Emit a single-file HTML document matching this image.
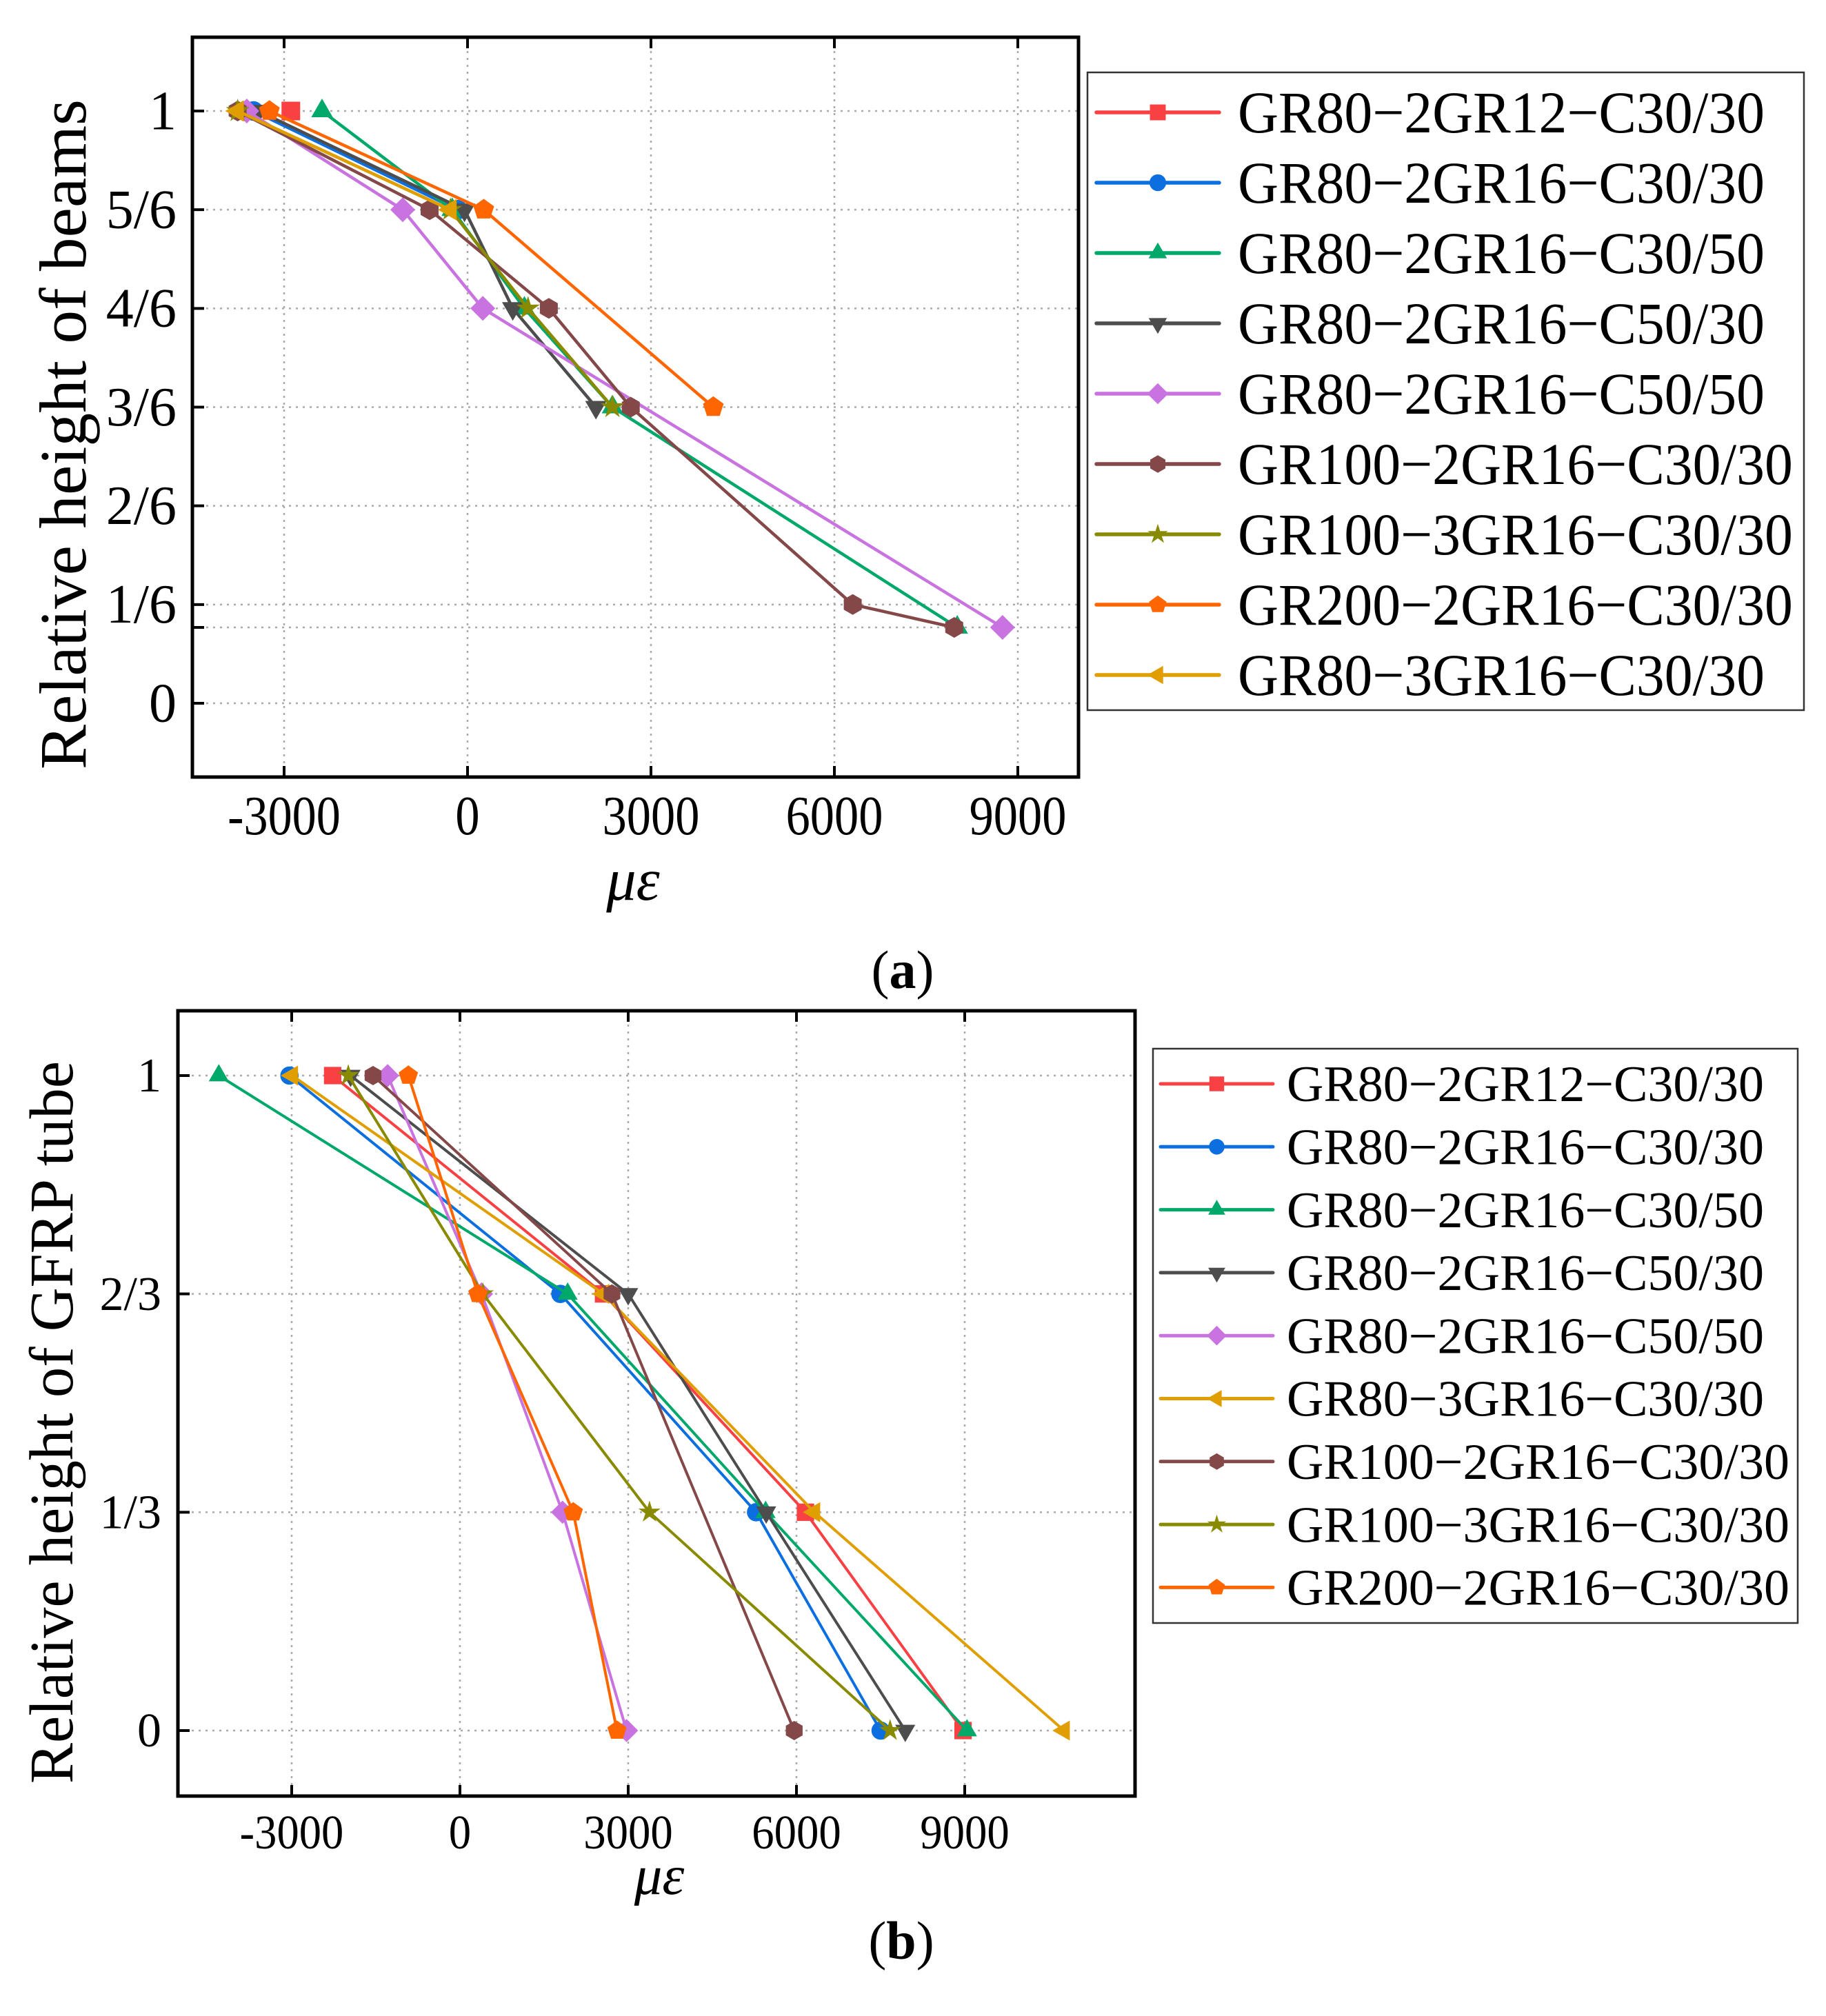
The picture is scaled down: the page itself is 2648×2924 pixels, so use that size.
<!DOCTYPE html>
<html><head><meta charset="utf-8">
<style>
html,body{margin:0;padding:0;background:#fff;}
svg{display:block;font-family:"Liberation Serif","DejaVu Serif",serif;}
</style></head>
<body>
<svg id="fig" width="2648" height="2924" viewBox="0 0 2648 2924" xmlns="http://www.w3.org/2000/svg">
<rect x="0" y="0" width="2648" height="2924" fill="#fff"/>
<g id="panelA"></g>
<g id="panelB"></g>
</svg>
<script>
// ---------- data ----------
const xTickVals = [-3000, 0, 3000, 6000, 9000];
const xTickLabels = ["-3000", "0", "3000", "6000", "9000"];
const aYTickVals = [0, 1/6, 2/6, 3/6, 4/6, 5/6, 1];
const aYTickLabels = ["0", "1/6", "2/6", "3/6", "4/6", "5/6", "1"];
const bYTickVals = [0, 1/3, 2/3, 1];
const bYTickLabels = ["0", "1/3", "2/3", "1"];

// panel (a) series (strain, relative height)
const aNames = ["GR80\u22122GR12\u2212C30/30","GR80\u22122GR16\u2212C30/30","GR80\u22122GR16\u2212C30/50","GR80\u22122GR16\u2212C50/30","GR80\u22122GR16\u2212C50/50","GR100\u22122GR16\u2212C30/30","GR100\u22123GR16\u2212C30/30","GR200\u22122GR16\u2212C30/30","GR80\u22123GR16\u2212C30/30"];
const aKeys = ["red","blue","green","gray","purple","brown","olive","orange","gold"];
const aX_red = [-2890];
const aY_red = [1];
const aX_blue = [-3500, -160];
const aY_blue = [1, 5/6];
const aX_green = [-2380, -250, 930, 2370, 8010];
const aY_green = [1, 5/6, 4/6, 3/6, 0.128];
const aX_gray = [-3420, -50, 740, 2100];
const aY_gray = [1, 5/6, 4/6, 3/6];
const aX_purple = [-3610, -1060, 250, 8750];
const aY_purple = [1, 5/6, 4/6, 0.128];
const aX_brown = [-3760, -620, 1330, 2670, 6300, 7960];
const aY_brown = [1, 5/6, 4/6, 3/6, 1/6, 0.128];
const aX_olive = [-3760, -280, 990, 2370];
const aY_olive = [1, 5/6, 4/6, 3/6];
const aX_orange = [-3240, 265, 4020];
const aY_orange = [1, 5/6, 3/6];
const aX_gold = [-3760, -280];
const aY_gold = [1, 5/6];

// panel (b) series
const bNames = ["GR80\u22122GR12\u2212C30/30","GR80\u22122GR16\u2212C30/30","GR80\u22122GR16\u2212C30/50","GR80\u22122GR16\u2212C50/30","GR80\u22122GR16\u2212C50/50","GR80\u22123GR16\u2212C30/30","GR100\u22122GR16\u2212C30/30","GR100\u22123GR16\u2212C30/30","GR200\u22122GR16\u2212C30/30"];
const bKeys = ["red","blue","green","gray","purple","gold","brown","olive","orange"];
const bX_red = [-2270, 2560, 6160, 8970];
const bY_red = [1, 2/3, 1/3, 0];
const bX_blue = [-3040, 1790, 5280, 7500];
const bY_blue = [1, 2/3, 1/3, 0];
const bX_green = [-4300, 1920, 5450, 9040];
const bY_green = [1, 2/3, 1/3, 0];
const bX_gray = [-1950, 3000, 5460, 7940];
const bY_gray = [1, 2/3, 1/3, 0];
const bX_purple = [-1290, 385, 1830, 2970];
const bY_purple = [1, 2/3, 1/3, 0];
const bX_gold = [-2990, 2560, 6320, 10770];
const bY_gold = [1, 2/3, 1/3, 0];
const bX_brown = [-1550, 2710, 5960];
const bY_brown = [1, 2/3, 0];
const bX_olive = [-1990, 410, 3380, 7670];
const bY_olive = [1, 2/3, 1/3, 0];
const bX_orange = [-920, 320, 2020, 2800];
const bY_orange = [1, 2/3, 1/3, 0];

const aData = {red:[aX_red,aY_red],blue:[aX_blue,aY_blue],green:[aX_green,aY_green],gray:[aX_gray,aY_gray],purple:[aX_purple,aY_purple],brown:[aX_brown,aY_brown],olive:[aX_olive,aY_olive],orange:[aX_orange,aY_orange],gold:[aX_gold,aY_gold]};
const bData = {red:[bX_red,bY_red],blue:[bX_blue,bY_blue],green:[bX_green,bY_green],gray:[bX_gray,bY_gray],purple:[bX_purple,bY_purple],gold:[bX_gold,bY_gold],brown:[bX_brown,bY_brown],olive:[bX_olive,bY_olive],orange:[bX_orange,bY_orange]};

const COLORS = {red:"#f94144",blue:"#0b6fe0",green:"#00a86a",gray:"#4d4d4d",purple:"#c873df",brown:"#844848",olive:"#888a00",orange:"#ff6600",gold:"#e09e00"};
const MARKERS = {red:"square",blue:"circle",green:"tri-up",gray:"tri-down",purple:"diamond",brown:"hexagon",olive:"star",orange:"pentagon",gold:"tri-left"};

const NS = "http://www.w3.org/2000/svg";
function mk(tag, attrs, parent){
  const e = document.createElementNS(NS, tag);
  for (const k in attrs) e.setAttribute(k, attrs[k]);
  parent.appendChild(e);
  return e;
}
function markerPts(type, cx, cy, r){
  const pts = [];
  function poly(n, rot, rad){ for(let i=0;i<n;i++){const a=rot+i*2*Math.PI/n; pts.push([cx+rad*Math.cos(a), cy+rad*Math.sin(a)]);} }
  if (type==="tri-up") poly(3, -Math.PI/2, r*1.2);
  else if (type==="tri-down") poly(3, Math.PI/2, r*1.2);
  else if (type==="tri-left") poly(3, Math.PI, r*1.2);
  else if (type==="diamond") poly(4, -Math.PI/2, r*1.2);
  else if (type==="hexagon") poly(6, -Math.PI/2, r);
  else if (type==="pentagon") poly(5, -Math.PI/2, r*1.05);
  else if (type==="star"){ for(let i=0;i<10;i++){const a=-Math.PI/2+i*Math.PI/5; const rr=i%2?r*0.45:r*1.2; pts.push([cx+rr*Math.cos(a), cy+rr*Math.sin(a)]);} }
  return pts.map(p=>p[0].toFixed(1)+","+p[1].toFixed(1)).join(" ");
}
function drawMarker(g, type, cx, cy, r, color){
  let el;
  if (type==="circle") el = mk("circle",{cx:cx,cy:cy,r:r*0.95,fill:color},g);
  else if (type==="square") el = mk("rect",{x:cx-r*0.9,y:cy-r*0.9,width:r*1.8,height:r*1.8,fill:color},g);
  else el = mk("polygon",{points:markerPts(type,cx,cy,r),fill:color},g);
  return el;
}
function fitText(t, w){
  t.setAttribute("textLength", w);
  t.setAttribute("lengthAdjust","spacingAndGlyphs");
}

function drawPanel(root, cfg){
  const {L,R,T,B,x0,x3000,yTop,yBot,yTicks,yLabels,data,keys,names,extraY} = cfg;
  const sx = v => x0 + (x3000-x0)*v/3000;
  const sy = v => yBot + (yTop-yBot)*v;
  const grid = mk("g",{},root);
  
  
  xTickVals.forEach(v=>{ mk("line",{x1:sx(v),x2:sx(v),y1:T,y2:B,stroke:"#aaa","stroke-width":2.5,"stroke-dasharray":"3,7"},grid); });
  yTicks.concat(extraY).forEach(v=>{ mk("line",{x1:L,x2:R,y1:sy(v),y2:sy(v),stroke:"#aaa","stroke-width":2.5,"stroke-dasharray":"3,7"},grid); });
  const ticks = mk("g",{stroke:"#000","stroke-width":4},root);
  
  
  xTickVals.forEach(v=>{ mk("line",{x1:sx(v),x2:sx(v),y1:B,y2:B-16},ticks); mk("line",{x1:sx(v),x2:sx(v),y1:T,y2:T+16},ticks); });
  yTicks.concat(extraY).forEach(v=>{ mk("line",{x1:L,x2:L+17,y1:sy(v),y2:sy(v)},ticks); });
  keys.forEach((k,i)=>{
    const [xs,ys] = data[k];
    const g = mk("g",{},root);
    
    
    const pts = xs.map((x,j)=>sx(x).toFixed(1)+","+sy(ys[j]).toFixed(1)).join(" ");
    const pl = mk("polyline",{points:pts,fill:"none",stroke:COLORS[k],"stroke-width":cfg.lw,"stroke-linejoin":"round"},g);
    
    
    xs.forEach((x,j)=>{
      const m = drawMarker(g, MARKERS[k], sx(x), sy(ys[j]), cfg.mr, COLORS[k]);
      
      
    });
  });
  const fr = mk("rect",{x:L,y:T,width:R-L,height:B-T,fill:"none",stroke:"#000","stroke-width":5},root);
  
  
  xTickVals.forEach((v,i)=>{
    const t = mk("text",{x:sx(v),y:cfg.xLabY,"font-size":cfg.tickFs,"text-anchor":"middle"},root);
    t.textContent = xTickLabels[i];
    
    
    fitText(t, cfg.tickW * xTickLabels[i].length/5 * (xTickLabels[i][0]==='-'?0.93:1));
  });
  yTicks.forEach((v,i)=>{
    const t = mk("text",{x:cfg.yLabX,y:sy(v)+cfg.tickFs*0.33,"font-size":cfg.tickFs,"text-anchor":"end"},root);
    t.textContent = yLabels[i];
    
    
  });
  const xt = mk("text",{x:cfg.xTitleX,y:cfg.xTitleY,"font-size":cfg.titleFs*0.9,"font-style":"italic","text-anchor":"middle"},root);
  xt.textContent = "\u03bc\u03b5";
  
  
  const yt = mk("text",{x:0,y:0,"font-size":cfg.titleFs,"text-anchor":"middle",transform:`translate(${cfg.yTitleX},${cfg.yTitleY}) rotate(-90)`},root);
  yt.textContent = cfg.yTitle;
  
  
  fitText(yt, cfg.yTitleLen);
  const pl = mk("text",{x:cfg.pLabX,y:cfg.pLabY,"font-size":78,"text-anchor":"middle"},root);
  
  
  const t1 = mk("tspan",{},pl); t1.textContent="(";
  const t2 = mk("tspan",{"font-weight":"bold"},pl); t2.textContent=cfg.pLab;
  const t3 = mk("tspan",{},pl); t3.textContent=")";
  const lg = mk("g",{},root);
  
  
  const Lg = cfg.leg;
  mk("rect",{x:Lg.x,y:Lg.y,width:Lg.w,height:Lg.h,fill:"#fff",stroke:"#333","stroke-width":2.5},lg);
  keys.forEach((k,i)=>{
    const e = mk("g",{},lg);
    
    
    const cy = Lg.y0 + i*Lg.dy;
    mk("line",{x1:Lg.lx1,x2:Lg.lx2,y1:cy,y2:cy,stroke:COLORS[k],"stroke-width":cfg.lw+1,"stroke-linecap":"round"},e);
    drawMarker(e, MARKERS[k], (Lg.lx1+Lg.lx2)/2, cy, cfg.mr*0.85, COLORS[k]);
    const t = mk("text",{x:Lg.tx,y:cy+Lg.fs*0.34,"font-size":Lg.fs},e);
    t.textContent = names[i];
    if (Lg.compress) fitText(t, t.getComputedTextLength()*Lg.compress);
  });
}

drawPanel(document.getElementById('panelA'), {
  L:279,R:1564,T:54,B:1127,x0:678,x3000:944,yTop:161,yBot:1020,
  yTicks:aYTickVals,yLabels:aYTickLabels,extraY:[0.128],data:aData,keys:aKeys,names:aNames,
  lw:4.5,mr:15,tickFs:80,tickW:176,xLabY:1210,yLabX:256,
  xTitleX:918,xTitleY:1305,titleFs:96,yTitle:"Relative height of beams",yTitleX:124,yTitleY:630,yTitleLen:972,
  pLab:"a",pLabX:1309,pLabY:1433,
  leg:{x:1577,y:105,w:1039,h:925,y0:163,dy:102,lx1:1590,lx2:1768,tx:1795,fs:86,compress:0.95}
});
drawPanel(document.getElementById('panelB'), {
  L:258,R:1646,T:1466,B:2605,x0:667,x3000:911,yTop:1560,yBot:2510,
  yTicks:bYTickVals,yLabels:bYTickLabels,extraY:[],data:bData,keys:bKeys,names:bNames,
  lw:4,mr:14,tickFs:70,tickW:162,xLabY:2681,yLabX:234,
  xTitleX:956,xTitleY:2747,titleFs:90,yTitle:"Relative height of GFRP tube",yTitleX:105,yTitleY:2063,yTitleLen:1048,
  pLab:"b",pLabX:1307,pLabY:2841,
  leg:{x:1672,y:1521,w:935,h:833,y0:1572,dy:91.3,lx1:1683,lx2:1846,tx:1866,fs:74,compress:1}
});
</script>
</body></html>
